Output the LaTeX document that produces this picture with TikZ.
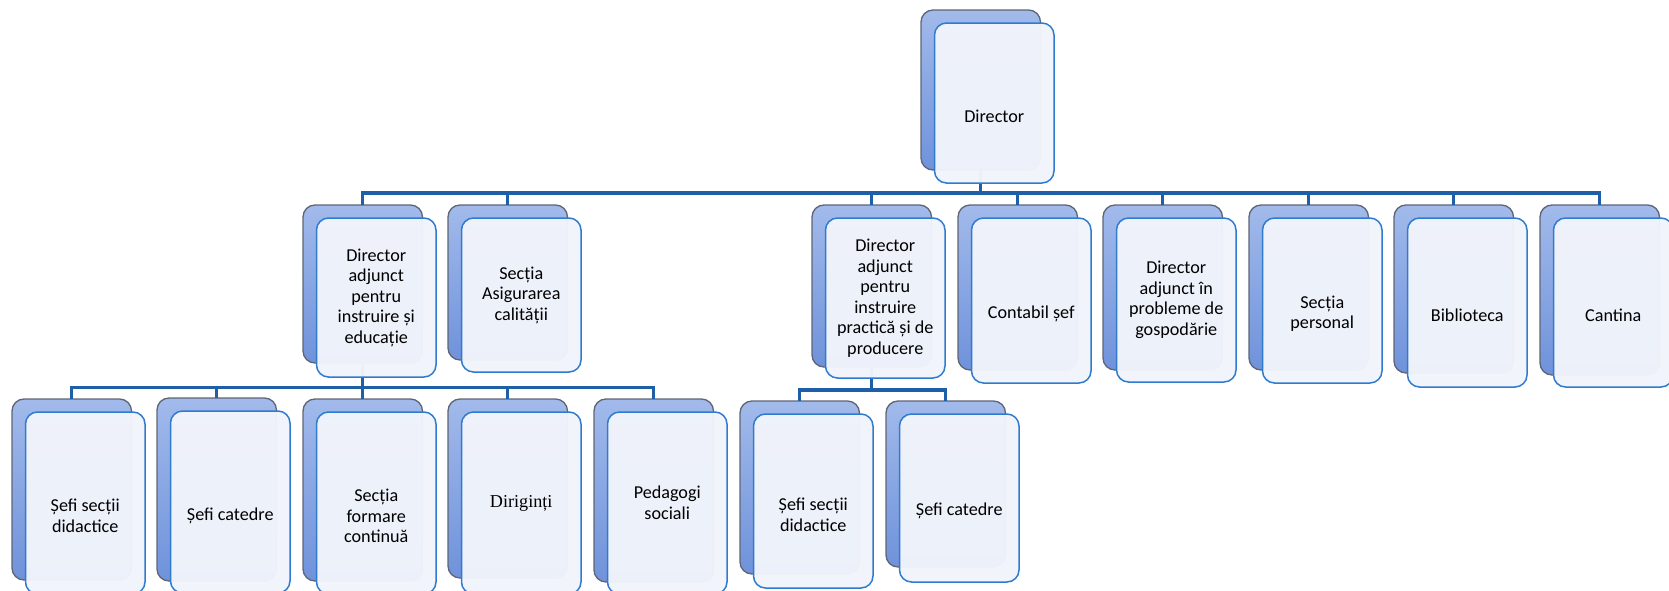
\documentclass[tikz,border=0pt]{standalone}
\usepackage{fontspec}
\setmainfont{Carlito}
\newfontfamily\timesfont{Liberation Serif}
\usetikzlibrary{calc}
\definecolor{backtop}{HTML}{A2BAEB}
\definecolor{backbot}{HTML}{6F92DB}
\definecolor{backline}{HTML}{5E6576}
\definecolor{frontfill}{HTML}{F1F4FB}
\definecolor{frontline}{HTML}{2E7BCF}
\definecolor{connline}{HTML}{1E5FA8}
\tikzset{
  backbox/.style={rectangle, rounded corners=3.6mm, draw=backline, line width=0.4mm,
    top color=backtop, bottom color=backbot, anchor=north west, inner sep=0pt,
    outer sep=0pt, minimum width=35.85mm},
  frontbox/.style={rectangle, rounded corners=3.6mm, draw=frontline, line width=0.45mm,
    fill=frontfill, fill opacity=0.97, anchor=north west, inner sep=0pt,
    outer sep=0pt, minimum width=35.85mm},
  boxtext/.style={align=center, font=\fontsize{15.5}{17.5}\selectfont, inner sep=0pt},
  conn/.style={draw=connline, line width=1mm},
}

\begin{document}
\begin{tikzpicture}[x=0.3mm, y=-0.3mm]
    \useasboundingbox (0,0) rectangle (1669,591);
    \clip (0,0) rectangle (1669,591); % boxes at the edge are cut

    % shaded boxes behind: name/left/top/height
    \foreach \nm/\x/\y/\h in {dir/921/10/160, adjIE/303/205/158, secAC/448/205/155,
        adjIP/812/205/162, contab/958/205/165, adjGo/1103/205/165, secPe/1249/205/165,
        bibl/1394/205/168, cant/1540/205/170, sdA/12/399/181, scA/157/398/183,
        sfc/303/399/182, dirig/448/399/179, ped/594/399/183, sdB/740/401/173,
        scB/886/401/166}{
      \node[backbox, minimum height={\h*0.3mm}] (\nm) at (\x,\y) {};
    }

    % connectors
    \foreach \c in {adjIE,secAC,adjIP,contab,adjGo,secPe,bibl,cant}
      \draw[conn] (dir.south) -- ++(0,23) -| (\c.north);
    \foreach \c in {sdA,scA,sfc,dirig,ped}
      \draw[conn] (adjIE.south) -- ++(0,24.5) -| (\c.north);
    \foreach \c in {sdB,scB}
      \draw[conn] (adjIP.south) -- ++(0,23) -| (\c.north);

    % light boxes in front, with their texts: name/height/text shift/text
    \foreach \nm/\h/\dy/\txt in {dir/160/13/{Director},
        adjIE/159/0/{Director\\adjunct\\pentru\\instruire și\\educație},
        secAC/154/0/{Secția\\Asigurarea\\calității},
        adjIP/160/0/{Director\\adjunct\\pentru\\instruire\\practică și de\\producere},
        contab/165/13/{Contabil șef},
        adjGo/164/0/{Director\\adjunct în\\probleme de\\gospodărie},
        secPe/165/13/{Secția\\personal},
        bibl/169/13/{Biblioteca},
        cant/169/13/{Cantina},
        sdA/182/13/{Șefi secții\\didactice},
        scA/182/14/{Șefi catedre},
        sfc/182/13/{Secția\\formare\\continuă},
        dirig/182/0/{\timesfont Diriginți},
        ped/182/0/{Pedagogi\\sociali},
        sdB/174/14/{Șefi secții\\didactice},
        scB/168/13/{Șefi catedre}}{
      \node[frontbox, minimum height={\h*0.3mm}] (\nm-front)
        at ($(\nm.north west)+(13.5,13)$) {};
      \node[boxtext] (\nm-text) at ($(\nm-front.center)+(0,\dy)$) {\txt};
    }
\end{tikzpicture}
\end{document}
